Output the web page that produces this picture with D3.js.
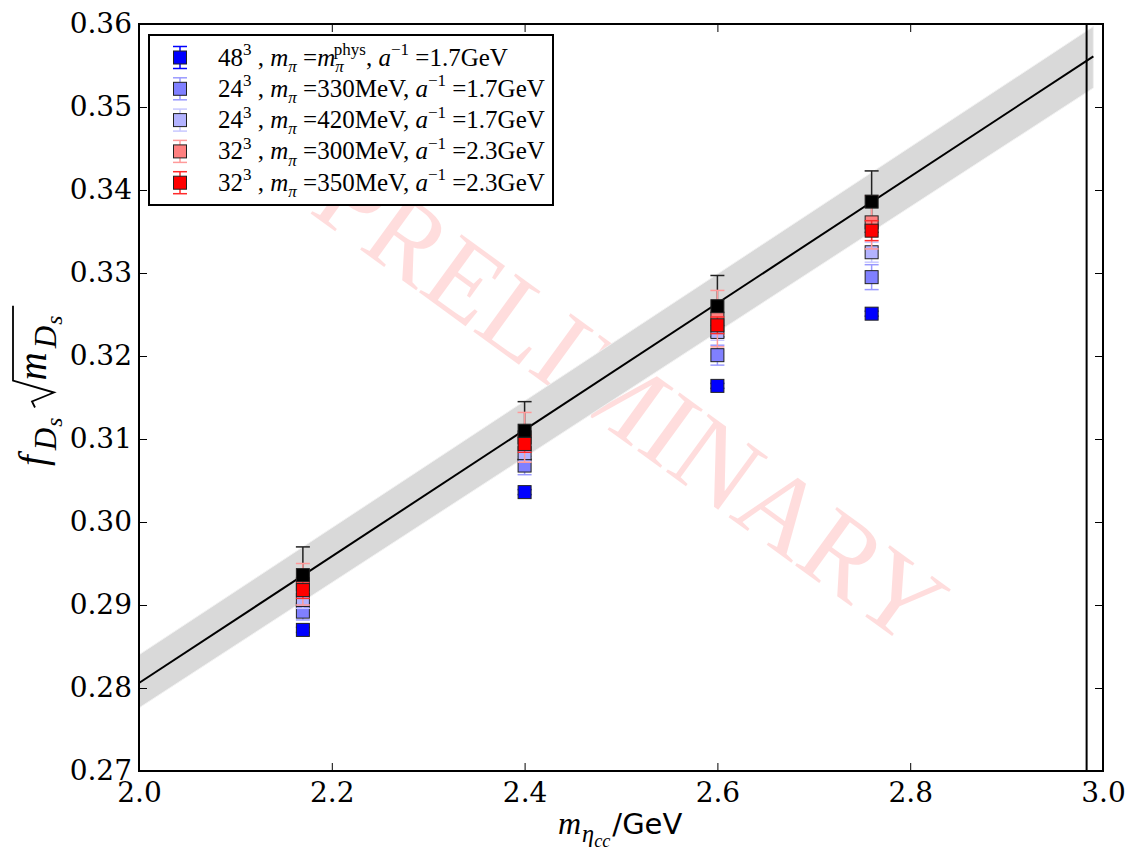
<!DOCTYPE html>
<html>
<head>
<script src="https://d3js.org/d3.v7.min.js"></script>
<style>
    body { margin: 0; background: #fff; }
    .tk { font-family: "DejaVu Serif", serif; font-size: 28px; fill: #000; }
</style>
</head>
<body>
<svg width="1135" height="848"></svg>
<script>
// ---- data ----
var xTicks = [2.0, 2.2, 2.4, 2.6, 2.8, 3.0];
var yTicks = [0.27, 0.28, 0.29, 0.30, 0.31, 0.32, 0.33, 0.34, 0.35, 0.36];

var mEtaC = [2.17, 2.40, 2.60, 2.76];

var contVal = [0.2936, 0.3110, 0.3260, 0.3386];   // black (extrapolated)
var contErr = [0.0034, 0.0035, 0.0037, 0.0037];
var l48Val  = [0.2870, 0.3036, 0.3164, 0.3251];
var l48Err  = [0.0003, 0.0003, 0.0003, 0.0003];
var l24aVal = [0.2892, 0.3068, 0.3201, 0.3295];
var l24aErr = [0.0010, 0.0011, 0.0012, 0.0015];
var l24bVal = [0.2906, 0.3083, 0.3229, 0.3325];
var l24bErr = [0.0010, 0.0010, 0.0010, 0.0012];
var l32aVal = [0.2925, 0.3102, 0.3245, 0.3361];
var l32aErr = [0.0025, 0.0030, 0.0034, 0.0032];
var l32bVal = [0.2918, 0.3094, 0.3237, 0.3351];
var l32bErr = [0.0010, 0.0010, 0.0010, 0.0012];

var legLattice = ["48", "24", "24", "32", "32"];
var legMpi     = ["phys", "330MeV", "420MeV", "300MeV", "350MeV"];
var legAinv    = ["1.7GeV", "1.7GeV", "1.7GeV", "2.3GeV", "2.3GeV"];

var fitX   = [2.0, 2.99];
var fitY   = [0.2806, 0.3561];
var bandLo = [0.2776, 0.3523];
var bandHi = [0.2840, 0.3597];
var physEtaC = 2.983;

// ---- setup ----
var svg = d3.select("svg");
var pL = 139, pR = 1103, pT = 24, pB = 771;

var x = d3.scaleLinear().domain([2.0, 3.0]).range([pL, pR]);
var y = d3.scaleLinear().domain([0.27, 0.36]).range([pB, pT]);

// watermark
svg.append("text")
    .attr("transform", "translate(624,410) rotate(36)")
    .attr("text-anchor", "middle")
    .attr("dominant-baseline", "middle")
    .style("font", "110px 'Liberation Serif'")
    .style("fill", "#ff0000")
    .style("opacity", 0.13)
    .text("PRELIMINARY");

// fit band + line
var bandData = fitX.map(function(d, i) { return {x: d, lo: bandLo[i], hi: bandHi[i], c: fitY[i]}; });
svg.append("path")
    .datum(bandData)
    .attr("d", d3.area().x(function(d) { return x(d.x); })
        .y0(function(d) { return y(d.lo); }).y1(function(d) { return y(d.hi); }))
    .attr("fill", "#d9d9d9")
    .attr("stroke", "#f2f2f2")
    .attr("stroke-width", 1);

svg.append("path")
    .datum(bandData)
    .attr("d", d3.line().x(function(d) { return x(d.x); }).y(function(d) { return y(d.c); }))
    .attr("fill", "none")
    .attr("stroke", "#000")
    .attr("stroke-width", 2);

svg.append("line")
    .attr("x1", x(physEtaC)).attr("x2", x(physEtaC))
    .attr("y1", pT).attr("y2", pB)
    .attr("stroke", "#000").attr("stroke-width", 2);

// ---- data points ----
var series = [
    {val: l48Val,  err: l48Err,  fill: "#0000ff", bar: "#0000ff"},
    {val: l24aVal, err: l24aErr, fill: "#8080ff", bar: "#9a9aff"},
    {val: l24bVal, err: l24bErr, fill: "#b3b3ff", bar: "#c8c8ff"},
    {val: l32aVal, err: l32aErr, fill: "#ff8080", bar: "#ff9a9a"},
    {val: l32bVal, err: l32bErr, fill: "#ff0000", bar: "#ff2a2a"}
];
var cont = {val: contVal, err: contErr, fill: "#000000", bar: "#222222"};

var cap = 7, half = 6.5;

function drawBars(s) {
    var g = svg.append("g");
    var pts = mEtaC.map(function(m, i) { return {m: m, v: s.val[i], e: s.err[i]}; });
    var p = g.selectAll("g").data(pts).enter().append("g");
    p.append("line")
        .attr("x1", function(d) { return x(d.m); }).attr("x2", function(d) { return x(d.m); })
        .attr("y1", function(d) { return y(d.v - d.e); }).attr("y2", function(d) { return y(d.v + d.e); })
        .attr("stroke", s.bar).attr("stroke-width", 1.5);
    [-1, 1].forEach(function(sg) {
        p.append("line")
            .attr("x1", function(d) { return x(d.m) - cap; }).attr("x2", function(d) { return x(d.m) + cap; })
            .attr("y1", function(d) { return y(d.v + sg * d.e); }).attr("y2", function(d) { return y(d.v + sg * d.e); })
            .attr("stroke", s.bar).attr("stroke-width", 1.5);
    });
}
function drawMarks(s) {
    var pts = mEtaC.map(function(m, i) { return {m: m, v: s.val[i]}; });
    svg.append("g").selectAll("rect").data(pts).enter().append("rect")
        .attr("x", function(d) { return x(d.m) - half; })
        .attr("y", function(d) { return y(d.v) - half; })
        .attr("width", 2 * half).attr("height", 2 * half)
        .attr("fill", s.fill)
        .attr("stroke", "#222").attr("stroke-width", 1);
}

drawBars(cont);
series.forEach(function(s) { drawBars(s); drawMarks(s); });
drawMarks(cont);

// ---- axes ----
var fmtX = d3.format(".1f"), fmtY = d3.format(".2f");
var ax = svg.append("g").attr("transform", "translate(0," + pB + ")")
    .call(d3.axisBottom(x).tickValues(xTicks).tickFormat(fmtX).tickSizeInner(-8).tickSizeOuter(0).tickPadding(9));
var ay = svg.append("g").attr("transform", "translate(" + pL + ",0)")
    .call(d3.axisLeft(y).tickValues(yTicks).tickFormat(fmtY).tickSizeInner(-8).tickSizeOuter(0).tickPadding(7));
var at = svg.append("g").attr("transform", "translate(0," + pT + ")")
    .call(d3.axisTop(x).tickValues(xTicks).tickFormat("").tickSizeInner(-8).tickSizeOuter(0));
var ar = svg.append("g").attr("transform", "translate(" + pR + ",0)")
    .call(d3.axisRight(y).tickValues(yTicks).tickFormat("").tickSizeInner(-8).tickSizeOuter(0));
[ax, ay, at, ar].forEach(function(a) {
    a.select(".domain").remove();
    a.attr("font-family", null).attr("font-size", null);
    a.selectAll(".tick line").attr("stroke", "#000").attr("stroke-width", 1);
    a.selectAll(".tick text").attr("class", "tk").attr("fill", null);
});
ax.selectAll(".tick text").attr("dy", "0.78em");

svg.append("rect")
    .attr("x", pL).attr("y", pT)
    .attr("width", pR - pL).attr("height", pB - pT)
    .attr("fill", "none").attr("stroke", "#000").attr("stroke-width", 2);

// ---- rich text helper ----
function rich(t, parts, base, subScale) {
    var cur = 0;
    subScale = subScale || 0.68;
    parts.forEach(function(p) {
        var off = p.sup ? -0.42 * base : p.sub ? 0.25 * base : p.subsub ? 0.42 * base : 0;
        var ts = t.append("tspan").text(p.t);
        if (off !== cur) ts.attr("dy", off - cur);
        cur = off;
        if (p.dx) ts.attr("dx", p.dx);
        if (p.it) ts.style("font-style", "italic");
        if (p.sup || p.sub) ts.style("font-size", (base * subScale) + "px");
        if (p.subsub) ts.style("font-size", (base * subScale * 0.75) + "px");
        if (p.fam) ts.style("font-family", p.fam);
        if (p.size) ts.style("font-size", p.size + "px");
    });
}

// ---- legend ----
var leg = svg.append("g");
leg.append("rect")
    .attr("x", 149).attr("y", 35).attr("width", 404).attr("height", 170)
    .attr("fill", "#fff").attr("stroke", "#000").attr("stroke-width", 2);

series.forEach(function(s, i) {
    var cy = 57.5 + i * 31.3, cx = 180;
    var g = leg.append("g");
    g.append("line").attr("x1", cx).attr("x2", cx).attr("y1", cy - 11).attr("y2", cy + 11)
        .attr("stroke", s.bar).attr("stroke-width", 1.5);
    [-11, 11].forEach(function(o) {
        g.append("line").attr("x1", cx - cap).attr("x2", cx + cap).attr("y1", cy + o).attr("y2", cy + o)
            .attr("stroke", s.bar).attr("stroke-width", 1.5);
    });
    g.append("rect").attr("x", cx - half).attr("y", cy - half).attr("width", 2 * half).attr("height", 2 * half)
        .attr("fill", s.fill).attr("stroke", "#222").attr("stroke-width", 1);

    var t = g.append("text").attr("x", 218).attr("y", cy + 8)
        .style("font", "25px 'Liberation Serif'").style("fill", "#000");
    var parts = [{t: legLattice[i]}, {t: "3", sup: true}, {t: " , "}, {t: "m", it: true}, {t: "π", sub: true, it: true}, {t: " ="}];
    if (legMpi[i] === "phys") {
        parts.push({t: "m", it: true}, {t: "π", sub: true, it: true}, {t: "phys", sup: true, dx: -10});
    } else {
        parts.push({t: legMpi[i]});
    }
    parts.push({t: ", "}, {t: "a", it: true}, {t: "−1", sup: true}, {t: " ="}, {t: legAinv[i]});
    rich(t, parts, 25);
});

// ---- axis labels ----
var xl = svg.append("text").attr("x", 558).attr("y", 834)
    .style("font", "32px 'Liberation Serif'");
rich(xl, [{t: "m", it: true}, {t: "η", sub: true, it: true, dx: 1}, {t: "cc", subsub: true, it: true},
          {t: "/GeV", fam: "DejaVu Sans", dx: 2, size: 29}], 32, 0.76);

var yl = svg.append("g").attr("transform", "translate(46,466) rotate(-90)");
var ya = yl.append("text").attr("x", 0).attr("y", 0).style("font", "39px 'Liberation Serif'");
rich(ya, [{t: "f", it: true}, {t: "D", sub: true, it: true, dx: 5}, {t: "s", subsub: true, it: true, dx: 1}], 39, 0.8);
var wA = ya.node().getComputedTextLength() + 7;
var yb = yl.append("text").attr("x", wA + 36).attr("y", 0).style("font", "39px 'Liberation Serif'");
rich(yb, [{t: "m", it: true}, {t: "D", sub: true, it: true, dx: 4}, {t: "s", subsub: true, it: true, dx: 1}], 39, 0.8);
var wB = yb.node().getComputedTextLength() + 5;
var r0 = wA + 9;
yl.append("path")
    .attr("d", "M" + r0 + ",-11 L" + (r0 + 6) + ",-14 L" + (r0 + 15) + ",8 L" + (r0 + 27) + ",-33 L" + (r0 + 31 + wB + 6) + ",-33")
    .attr("fill", "none").attr("stroke", "#000").attr("stroke-width", 1.8);
</script>
</body>
</html>
